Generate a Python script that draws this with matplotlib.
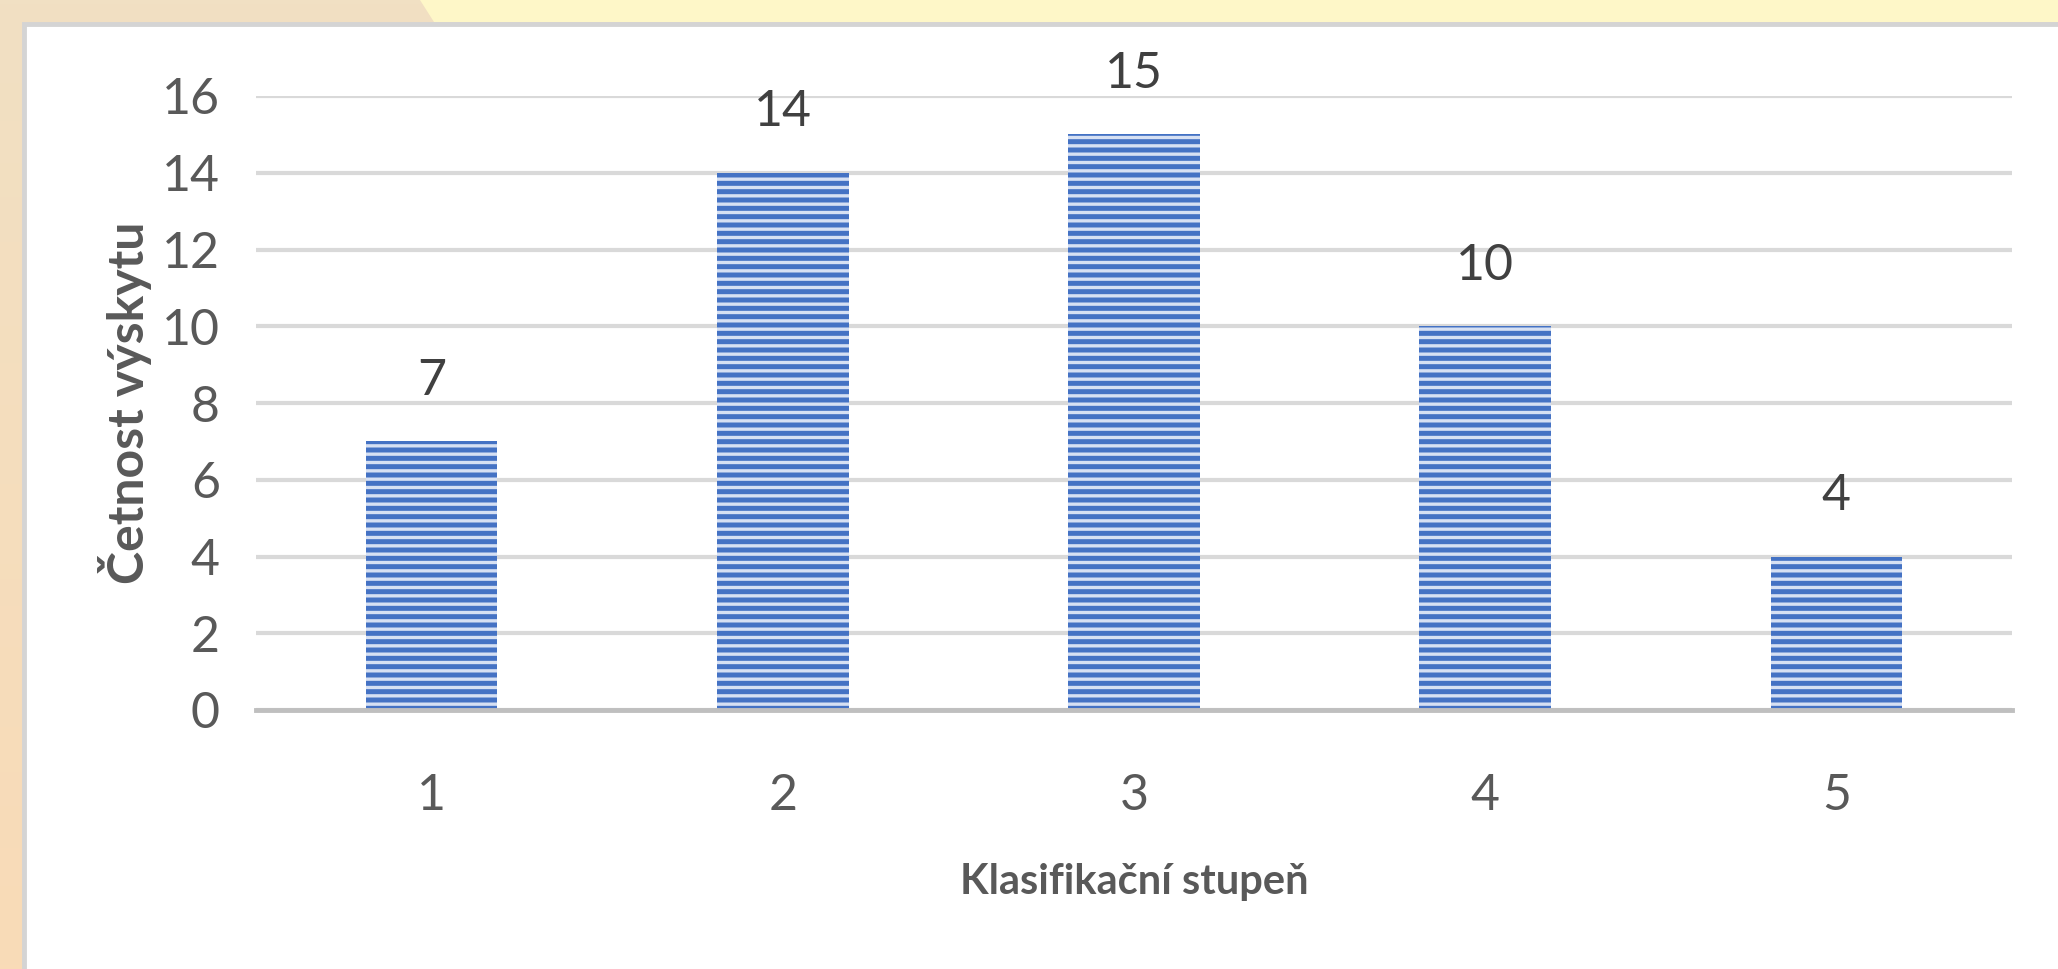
#!/usr/bin/env python3
"""Četnost výskytu podle klasifikačního stupně - sloupcový graf."""

import matplotlib
matplotlib.use("Agg")
import numpy as np
import matplotlib.pyplot as plt
from matplotlib.patches import Rectangle, Polygon
from matplotlib.colors import LinearSegmentedColormap

# --- data
categories = ["1", "2", "3", "4", "5"]
counts = [7, 14, 15, 10, 4]
y_ticks = [0, 2, 4, 6, 8, 10, 12, 14, 16]

X_LABEL = "Klasifikační stupeň"
Y_LABEL = "Četnost výskytu"

FONT = ["Lato", "DejaVu Sans"]
plt.rcParams["font.family"] = FONT
plt.rcParams["hatch.linewidth"] = 2.4

BAR_BLUE = "#4472C4"
STRIPE = "#d6e0f3"
TEXT_GREY = "#595959"


def main() -> int:
    W, H, DPI = 2058, 969, 100
    fig = plt.figure(figsize=(W / DPI, H / DPI), dpi=DPI)

    # --- slide-like background (tan strip, yellow band, white panel)
    bg = fig.add_axes([0, 0, 1, 1], zorder=-10)
    bg.set_xlim(0, W)
    bg.set_ylim(H, 0)
    bg.axis("off")
    grad = np.linspace(0, 1, 256).reshape(-1, 1)
    cmap = LinearSegmentedColormap.from_list("bg", ["#F1E0C3", "#F9DBB7"])
    bg.imshow(grad, cmap=cmap, extent=(0, W, H, 0), aspect="auto")
    bg.add_patch(Polygon([(420, 0), (W, 0), (W, 22), (434, 22)],
                         closed=True, facecolor="#FEF7C8", edgecolor="none"))
    bg.add_patch(Rectangle((24, 24), W, H, facecolor="white",
                           edgecolor="#D4D4D4", linewidth=3.5))

    # --- chart
    ax = fig.add_axes([256 / W, 1 - 710 / H, (2012 - 256) / W, (710 - 96) / H])
    x = np.arange(1, len(categories) + 1)
    # hatch takes the edge colour; linewidth 0 keeps the outline invisible
    ax.bar(x, counts, width=0.375, color=BAR_BLUE, edgecolor=STRIPE,
           linewidth=0, hatch="--", zorder=3)

    for xi, v in zip(x, counts):
        ax.annotate(str(v), (xi, v), xytext=(0, 27), textcoords="offset points",
                    ha="center", va="bottom", fontsize=36, color="#404040")

    ax.set_xlim(0.5, len(categories) + 0.5)
    ax.set_ylim(0, 16)
    ax.set_yticks(y_ticks)
    ax.set_xticks(x)
    ax.set_xticklabels(categories)
    ax.grid(axis="y", color="#D9D9D9", linewidth=3, zorder=0)
    ax.set_axisbelow(True)
    for s in ("top", "right", "left"):
        ax.spines[s].set_visible(False)
    ax.spines["bottom"].set_color("#BFBFBF")
    ax.spines["bottom"].set_linewidth(3.5)
    ax.spines["bottom"].set_zorder(4)
    ax.tick_params(axis="both", length=0, labelsize=36, labelcolor=TEXT_GREY)
    ax.tick_params(axis="y", pad=26)
    ax.tick_params(axis="x", pad=45)

    ax.set_xlabel(X_LABEL, fontsize=30, fontweight="bold", color=TEXT_GREY,
                  labelpad=32)
    ax.set_ylabel(Y_LABEL, fontsize=36, fontweight="bold", color=TEXT_GREY,
                  labelpad=7)

    fig.savefig("out.png", dpi=DPI)
    plt.close(fig)
    return 0


if __name__ == "__main__":
    raise SystemExit(main())
